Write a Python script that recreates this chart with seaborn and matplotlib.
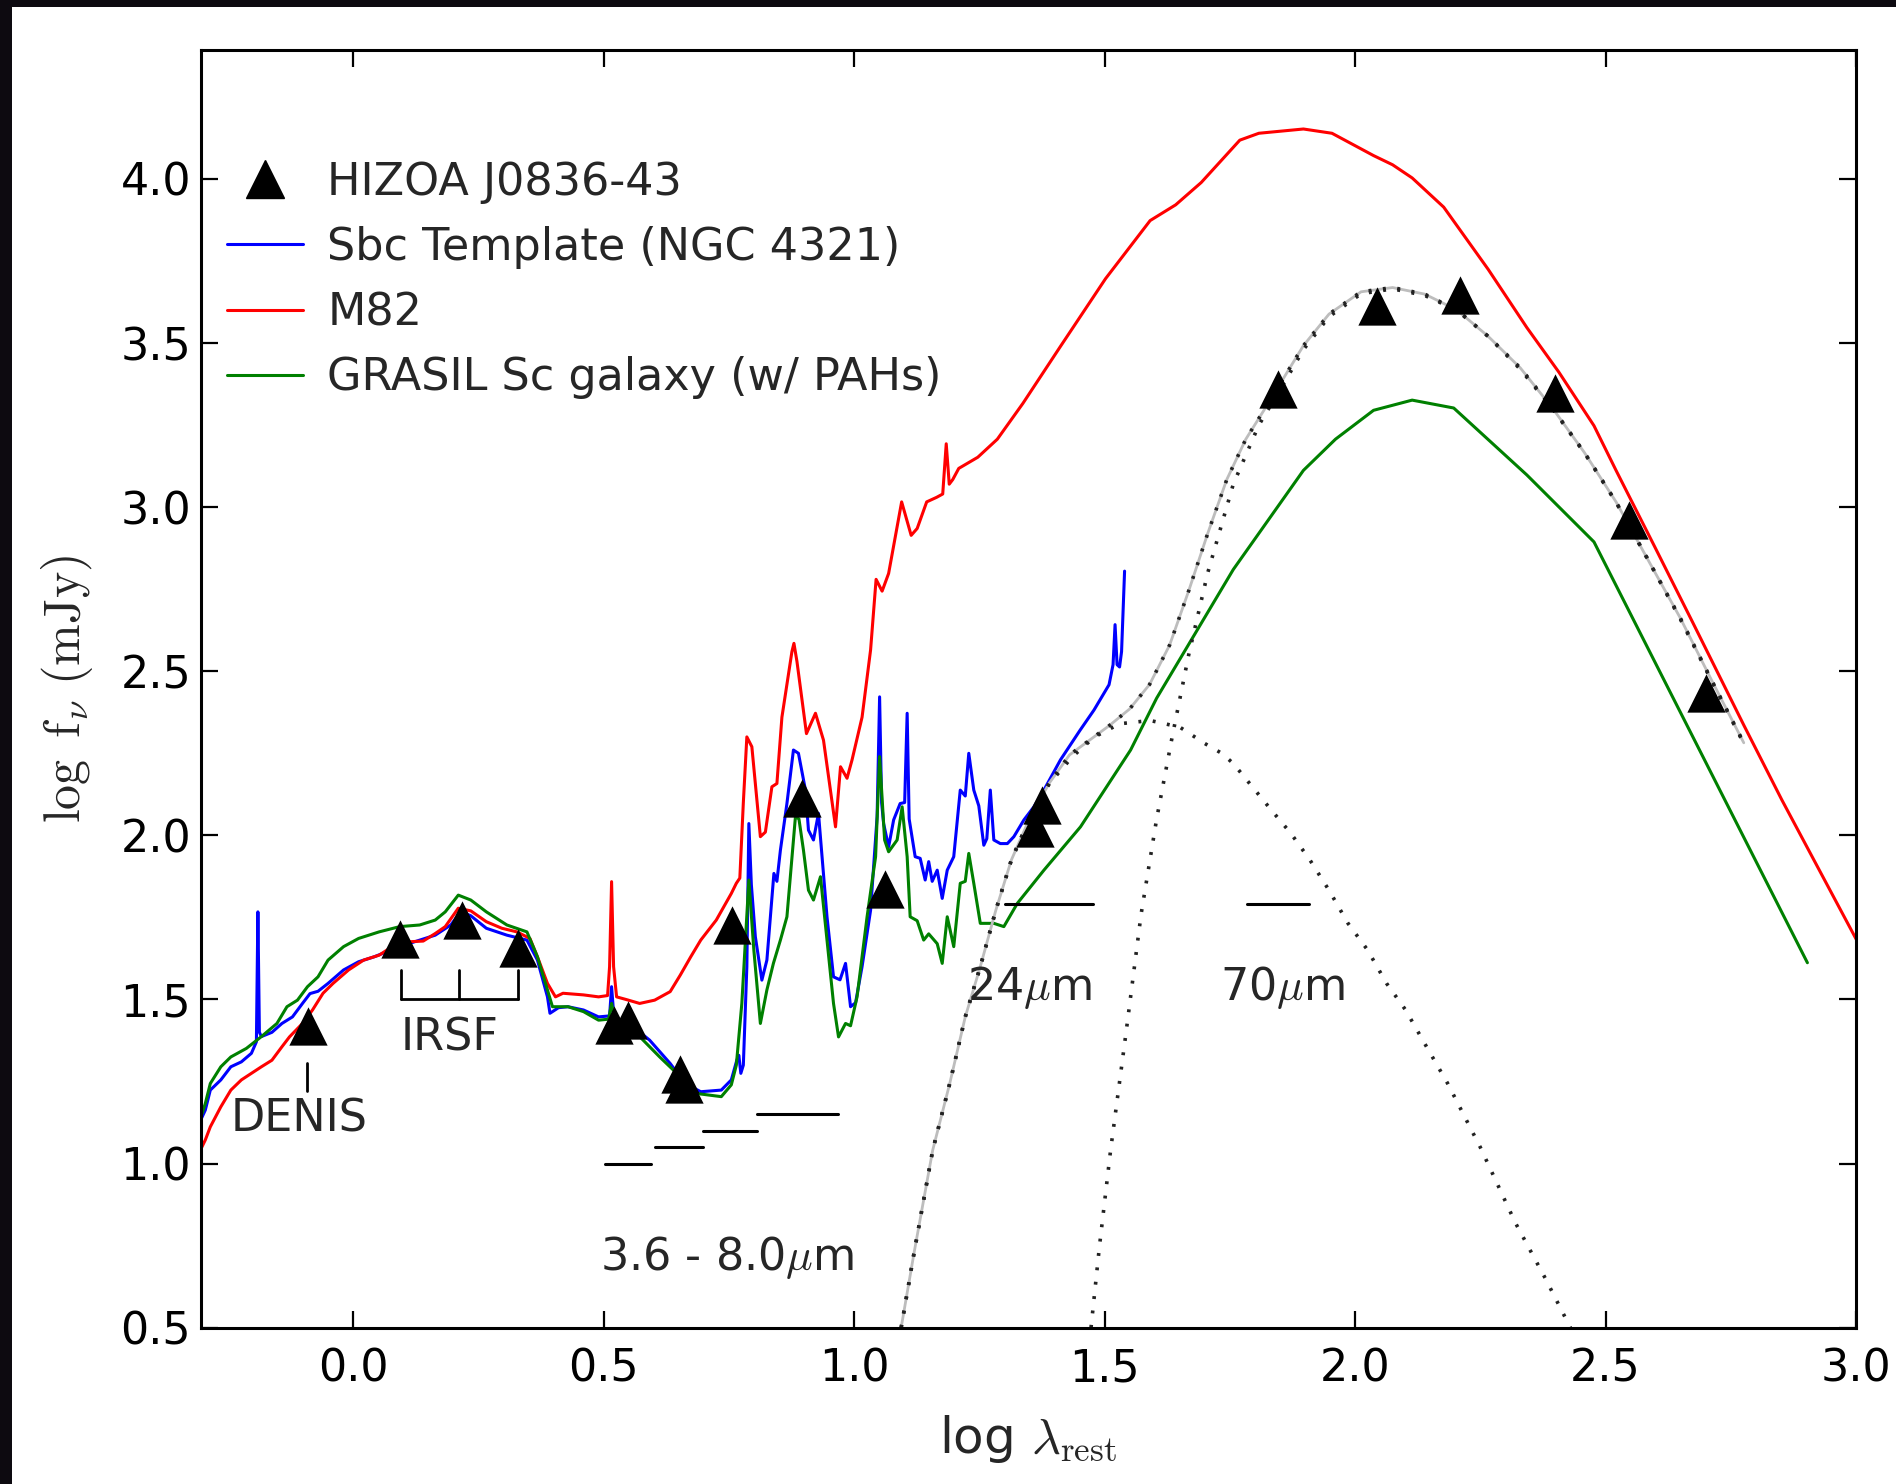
import matplotlib
matplotlib.use("Agg")
import matplotlib.pyplot as plt
from matplotlib.lines import Line2D
from matplotlib.patches import Rectangle
import seaborn as sns

# ---------------- photometry (log lambda_rest [um], log f_nu [mJy]) ----------------
phot_x = [-0.089, 0.093, 0.218, 0.329, 0.521, 0.549, 0.653, 0.661, 0.757, 0.896,
          1.061, 1.362, 1.375, 1.846, 2.043, 2.209, 2.400, 2.547, 2.700]
phot_y = [1.420, 1.683, 1.742, 1.656, 1.422, 1.437, 1.273, 1.244, 1.727, 2.113,
          1.838, 2.021, 2.092, 3.359, 3.612, 3.646, 3.347, 2.962, 2.435]

# ---------------- Sbc template (NGC 4321) ----------------
sbc_x = [-0.302, -0.295, -0.285, -0.264, -0.244, -0.223, -0.203, -0.193, -0.190, -0.187,
         -0.183, -0.162, -0.142, -0.121, -0.101, -0.086, -0.070, -0.050, -0.019, 0.011,
         0.042, 0.083, 0.123, 0.164, 0.195, 0.215, 0.235, 0.266, 0.307, 0.347,
         0.368, 0.388, 0.393, 0.410, 0.429, 0.460, 0.490, 0.512, 0.516, 0.520,
         0.526, 0.551, 0.592, 0.633, 0.663, 0.694, 0.735, 0.755, 0.766, 0.770,
         0.774, 0.779, 0.786, 0.790, 0.795, 0.803, 0.816, 0.826, 0.840, 0.846,
         0.853, 0.866, 0.879, 0.889, 0.903, 0.909, 0.919, 0.929, 0.946, 0.959,
         0.972, 0.983, 0.993, 1.003, 1.016, 1.033, 1.046, 1.051, 1.055, 1.059,
         1.069, 1.079, 1.092, 1.101, 1.106, 1.110, 1.122, 1.132, 1.142, 1.149,
         1.156, 1.166, 1.176, 1.186, 1.199, 1.212, 1.222, 1.229, 1.239, 1.249,
         1.259, 1.265, 1.272, 1.279, 1.292, 1.306, 1.319, 1.339, 1.359, 1.379,
         1.412, 1.451, 1.479, 1.509, 1.517, 1.521, 1.525, 1.530, 1.534, 1.540]
sbc_y = [1.140, 1.163, 1.224, 1.255, 1.295, 1.310, 1.336, 1.371, 1.767, 1.400,
         1.387, 1.400, 1.427, 1.447, 1.488, 1.518, 1.525, 1.549, 1.590, 1.615,
         1.630, 1.655, 1.676, 1.696, 1.727, 1.768, 1.755, 1.717, 1.696, 1.681,
         1.620, 1.508, 1.458, 1.475, 1.478, 1.468, 1.447, 1.450, 1.539, 1.460,
         1.440, 1.427, 1.376, 1.305, 1.244, 1.219, 1.224, 1.255, 1.315, 1.330,
         1.275, 1.300, 1.600, 2.036, 1.850, 1.691, 1.559, 1.620, 1.884, 1.860,
         1.955, 2.097, 2.260, 2.250, 2.138, 2.016, 1.986, 2.067, 1.752, 1.569,
         1.560, 1.610, 1.478, 1.490, 1.600, 1.772, 2.057, 2.422, 2.100, 2.036,
         1.965, 2.047, 2.097, 2.100, 2.372, 2.050, 1.935, 1.930, 1.864, 1.920,
         1.860, 1.894, 1.808, 1.894, 1.935, 2.138, 2.120, 2.250, 2.138, 2.090,
         1.970, 1.990, 2.138, 1.986, 1.975, 1.975, 1.996, 2.047, 2.087, 2.138,
         2.230, 2.320, 2.382, 2.459, 2.520, 2.642, 2.520, 2.513, 2.560, 2.805]

# ---------------- M82 ----------------
m82_x = [-0.302, -0.295, -0.285, -0.264, -0.244, -0.223, -0.203, -0.183, -0.162, -0.142,
         -0.127, -0.101, -0.081, -0.060, -0.040, -0.009, 0.021, 0.052, 0.083, 0.113,
         0.140, 0.164, 0.184, 0.210, 0.235, 0.266, 0.297, 0.327, 0.353, 0.368,
         0.388, 0.404, 0.419, 0.460, 0.490, 0.508, 0.512, 0.516, 0.520, 0.526,
         0.545, 0.572, 0.602, 0.633, 0.653, 0.674, 0.694, 0.725, 0.755, 0.765,
         0.772, 0.779, 0.786, 0.796, 0.813, 0.823, 0.836, 0.846, 0.856, 0.876,
         0.880, 0.886, 0.905, 0.923, 0.939, 0.963, 0.973, 0.986, 0.996, 1.016,
         1.033, 1.044, 1.056, 1.069, 1.095, 1.114, 1.126, 1.145, 1.165, 1.177,
         1.184, 1.190, 1.197, 1.209, 1.247, 1.286, 1.337, 1.413, 1.502, 1.591,
         1.642, 1.693, 1.770, 1.808, 1.897, 1.954, 2.037, 2.075, 2.114, 2.177,
         2.266, 2.343, 2.407, 2.477, 2.521, 2.598, 2.674, 2.776, 2.852, 3.002]
m82_y = [1.050, 1.072, 1.112, 1.173, 1.224, 1.255, 1.275, 1.295, 1.315, 1.356,
         1.386, 1.427, 1.468, 1.519, 1.549, 1.590, 1.620, 1.635, 1.666, 1.676,
         1.678, 1.701, 1.722, 1.778, 1.770, 1.737, 1.717, 1.706, 1.686, 1.630,
         1.549, 1.508, 1.519, 1.514, 1.508, 1.512, 1.600, 1.859, 1.600, 1.508,
         1.500, 1.488, 1.498, 1.524, 1.574, 1.630, 1.681, 1.742, 1.823, 1.854,
         1.870, 2.100, 2.300, 2.270, 1.996, 2.010, 2.148, 2.158, 2.360, 2.560,
         2.585, 2.530, 2.310, 2.372, 2.290, 2.026, 2.209, 2.174, 2.230, 2.360,
         2.565, 2.780, 2.744, 2.798, 3.016, 2.914, 2.935, 3.016, 3.030, 3.040,
         3.193, 3.070, 3.084, 3.118, 3.152, 3.207, 3.316, 3.492, 3.696, 3.873,
         3.921, 3.989, 4.118, 4.139, 4.152, 4.139, 4.071, 4.043, 4.003, 3.914,
         3.724, 3.547, 3.411, 3.248, 3.112, 2.880, 2.649, 2.336, 2.108, 1.679]

# ---------------- GRASIL Sc galaxy (w/ PAHs) ----------------
grasil_x = [-0.302, -0.295, -0.285, -0.264, -0.244, -0.213, -0.183, -0.152, -0.132, -0.111,
            -0.091, -0.070, -0.050, -0.019, 0.011, 0.052, 0.093, 0.133, 0.164, 0.184,
            0.210, 0.235, 0.266, 0.307, 0.347, 0.368, 0.388, 0.398, 0.429, 0.460,
            0.490, 0.510, 0.516, 0.522, 0.572, 0.612, 0.653, 0.684, 0.735, 0.755,
            0.765, 0.776, 0.790, 0.800, 0.813, 0.826, 0.839, 0.853, 0.866, 0.883,
            0.890, 0.899, 0.909, 0.919, 0.933, 0.946, 0.959, 0.969, 0.983, 0.993,
            1.006, 1.026, 1.043, 1.051, 1.061, 1.069, 1.086, 1.096, 1.106, 1.112,
            1.126, 1.139, 1.149, 1.166, 1.176, 1.186, 1.199, 1.212, 1.222, 1.229,
            1.239, 1.252, 1.279, 1.299, 1.326, 1.379, 1.452, 1.552, 1.604, 1.757,
            1.897, 1.961, 2.037, 2.114, 2.197, 2.343, 2.477, 2.903]
grasil_y = [1.150, 1.183, 1.244, 1.295, 1.325, 1.351, 1.387, 1.427, 1.478, 1.498,
            1.539, 1.569, 1.620, 1.661, 1.686, 1.706, 1.722, 1.727, 1.742, 1.767,
            1.818, 1.803, 1.767, 1.727, 1.706, 1.630, 1.529, 1.478, 1.478, 1.463,
            1.437, 1.440, 1.488, 1.440, 1.387, 1.325, 1.265, 1.214, 1.204, 1.240,
            1.300, 1.488, 1.864, 1.650, 1.427, 1.529, 1.610, 1.681, 1.752, 2.057,
            2.050, 1.955, 1.833, 1.803, 1.874, 1.681, 1.488, 1.386, 1.427, 1.420,
            1.508, 1.752, 1.935, 2.240, 1.986, 1.950, 1.986, 2.087, 1.935, 1.752,
            1.740, 1.681, 1.700, 1.670, 1.610, 1.752, 1.661, 1.854, 1.860, 1.945,
            1.854, 1.732, 1.732, 1.722, 1.793, 1.894, 2.026, 2.260, 2.418, 2.810,
            3.112, 3.207, 3.295, 3.326, 3.302, 3.098, 2.894, 1.612]

# ---------------- two-component dust fit ----------------
warm_x = [1.094, 1.120, 1.157, 1.191, 1.222, 1.252, 1.283, 1.314, 1.352, 1.390,
          1.436, 1.480, 1.530, 1.591, 1.650, 1.700, 1.734, 1.757, 1.795, 1.833,
          1.872, 1.910, 1.948, 1.986, 2.025, 2.063, 2.101, 2.139, 2.185, 2.250,
          2.320, 2.380, 2.430]
warm_y = [0.500, 0.730, 1.041, 1.244, 1.447, 1.600, 1.772, 1.925, 2.057, 2.158,
          2.240, 2.300, 2.340, 2.350, 2.330, 2.280, 2.250, 2.219, 2.148, 2.077,
          2.006, 1.925, 1.833, 1.732, 1.651, 1.549, 1.468, 1.366, 1.244, 1.050,
          0.820, 0.650, 0.500]

cold_x = [1.473, 1.490, 1.512, 1.543, 1.573, 1.604, 1.635, 1.668, 1.706, 1.757,
          1.808, 1.859, 1.897, 1.948, 2.012, 2.075, 2.139, 2.203, 2.266, 2.330,
          2.394, 2.458, 2.521, 2.585, 2.649, 2.712, 2.776]
cold_y = [0.500, 0.750, 1.040, 1.400, 1.760, 2.050, 2.300, 2.550, 2.800, 3.070,
          3.250, 3.380, 3.480, 3.580, 3.650, 3.665, 3.645, 3.600, 3.520, 3.420,
          3.300, 3.165, 3.015, 2.840, 2.660, 2.470, 2.280]

total_x = [1.094, 1.120, 1.157, 1.191, 1.222, 1.252, 1.283, 1.314, 1.352, 1.390,
           1.430, 1.470, 1.510, 1.550, 1.590, 1.630, 1.668, 1.706, 1.744, 1.782,
           1.821, 1.859, 1.897, 1.948, 2.012, 2.075, 2.139, 2.203, 2.266, 2.330,
           2.394, 2.458, 2.521, 2.585, 2.649, 2.712, 2.776]
total_y = [0.500, 0.730, 1.041, 1.244, 1.447, 1.600, 1.772, 1.925, 2.057, 2.160,
           2.245, 2.290, 2.335, 2.385, 2.460, 2.580, 2.745, 2.920, 3.084, 3.207,
           3.302, 3.397, 3.492, 3.588, 3.656, 3.669, 3.649, 3.601, 3.520, 3.424,
           3.302, 3.166, 3.016, 2.839, 2.663, 2.472, 2.282]

# ---------------- filter widths ----------------
irac_lo = [0.502, 0.602, 0.699, 0.806]
irac_hi = [0.595, 0.699, 0.806, 0.968]
irac_level = [1.00, 1.05, 1.10, 1.15]
mips_lo = [1.301, 1.785]
mips_hi = [1.477, 1.908]
mips_level = [1.79, 1.79]
irsf_bands = [0.096, 0.212, 0.330]
denis_band = -0.091

FS = 32

sns.set_theme(style="ticks")
plt.rcParams["font.family"] = ["DejaVu Sans"]
plt.rcParams["mathtext.fontset"] = "cm"
plt.rcParams["axes.linewidth"] = 2.2

fig = plt.figure(figsize=(18.96, 14.84), dpi=100)
ax = fig.add_axes([0.1059, 0.1053, 0.8730, 0.8613])

lw = 2.2
sns.lineplot(x=sbc_x, y=sbc_y, color="#0000ff", lw=lw, ax=ax, estimator=None, sort=False)
sns.lineplot(x=m82_x, y=m82_y, color="#ff0000", lw=lw, ax=ax, estimator=None, sort=False)
sns.lineplot(x=grasil_x, y=grasil_y, color="#008000", lw=lw, ax=ax, estimator=None, sort=False)
sns.lineplot(x=total_x, y=total_y, color="0.74", lw=2.0, ax=ax, estimator=None, sort=False)
for cx, cy in [(warm_x, warm_y), (cold_x, cold_y), (total_x, total_y)]:
    sns.lineplot(x=cx, y=cy, color="#222222", lw=2.6, ax=ax, estimator=None, sort=False)
    ax.lines[-1].set_dashes([0.8, 3.2])

sns.scatterplot(x=phot_x, y=phot_y, marker="^", s=760, color="black",
                edgecolor="black", linewidth=0, ax=ax, zorder=5)

# filter bandwidth bars
for lo, hi, lev in zip(irac_lo + mips_lo, irac_hi + mips_hi, irac_level + mips_level):
    ax.plot([lo, hi], [lev, lev], color="black", lw=2.2)

# IRSF bracket and DENIS tick
ax.plot([irsf_bands[0], irsf_bands[-1]], [1.5, 1.5], color="black", lw=2.0)
for b in irsf_bands:
    ax.plot([b, b], [1.5, 1.59], color="black", lw=2.0)
ax.plot([denis_band, denis_band], [1.222, 1.307], color="black", lw=2.0)

ax.text(0.192, 1.346, "IRSF", fontsize=FS, ha="center", va="baseline")
ax.text(-0.107, 1.097, "DENIS", fontsize=FS, ha="center", va="baseline")
ax.text(0.747, 0.675, r"3.6 - 8.0$\mu$m", fontsize=FS, ha="center", va="baseline")
ax.text(1.350, 1.498, r"24$\mu$m", fontsize=FS, ha="center", va="baseline")
ax.text(1.855, 1.498, r"70$\mu$m", fontsize=FS, ha="center", va="baseline")

ax.set_xlim(-0.304, 3.0)
ax.set_ylim(0.5, 4.394)
ax.set_xticks([0.0, 0.5, 1.0, 1.5, 2.0, 2.5, 3.0])
ax.set_yticks([0.5, 1.0, 1.5, 2.0, 2.5, 3.0, 3.5, 4.0])
ax.xaxis.set_major_formatter(matplotlib.ticker.FormatStrFormatter("%.1f"))
ax.yaxis.set_major_formatter(matplotlib.ticker.FormatStrFormatter("%.1f"))
ax.tick_params(direction="in", top=True, right=True, length=12, width=1.6,
               labelsize=FS, colors="black")
ax.tick_params(axis="x", pad=14)
ax.tick_params(axis="y", pad=7)
for sp in ax.spines.values():
    sp.set_color("black")
    sp.set_linewidth(2.2)

ax.set_xlabel(r"log $\lambda_{\rm rest}$", fontsize=36, va="center")
ax.xaxis.set_label_coords(0.5, -0.087)
ax.set_ylabel(r"$\log\ {\rm f}_{\nu}\ ({\rm mJy})$", fontsize=36, va="center")
ax.yaxis.set_label_coords(-0.081, 0.5)

handles = [
    Line2D([], [], marker="^", color="black", linestyle="none", markersize=27),
    Line2D([], [], color="#0000ff", lw=lw),
    Line2D([], [], color="#ff0000", lw=lw),
    Line2D([], [], color="#008000", lw=lw),
]
labels = ["HIZOA J0836-43", "Sbc Template (NGC 4321)", "M82", "GRASIL Sc galaxy (w/ PAHs)"]
ax.legend(handles, labels, loc="upper left", bbox_to_anchor=(0.016, 0.913),
          frameon=False, fontsize=FS, borderpad=0, borderaxespad=0,
          handlelength=1.7, handletextpad=0.55, labelspacing=0.50, numpoints=1)

# dark mount edges of the figure
dark = "#0d0a10"
fig.patches.append(Rectangle((0, 0), 12 / 1896, 1, transform=fig.transFigure,
                             facecolor=dark, edgecolor="none", zorder=10))
fig.patches.append(Rectangle((0, 1 - 7 / 1484), 1, 7 / 1484, transform=fig.transFigure,
                             facecolor=dark, edgecolor="none", zorder=10))

fig.savefig("out.png", dpi=100, facecolor="white")
